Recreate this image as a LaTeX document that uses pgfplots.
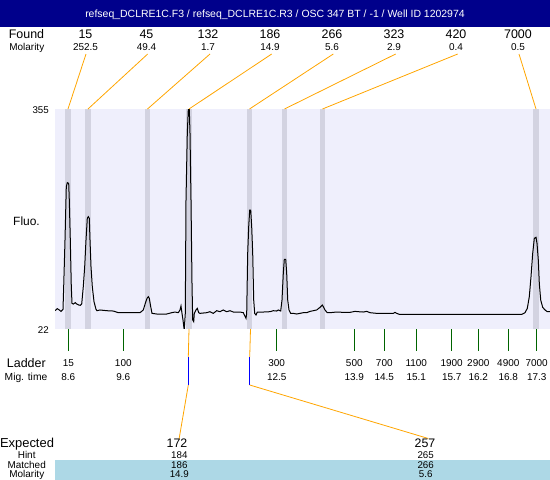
\documentclass[border=0pt]{standalone}
\usepackage{pgfplots}
\pgfplotsset{compat=1.18}
\usepackage{fontspec}
\setmainfont{Liberation Sans}
\definecolor{titlebg}{RGB}{0,0,139}
\definecolor{plotbg}{RGB}{239,239,252}
\definecolor{bandcol}{RGB}{211,211,225}
\definecolor{ladgreen}{RGB}{0,100,0}
\definecolor{leadorange}{RGB}{255,165,0}
\definecolor{rowblue}{RGB}{173,216,230}
\newcommand{\fs}[1]{\fontsize{#1}{#1}\selectfont}
\begin{document}
\begin{tikzpicture}[lab/.style={inner sep=0pt,text depth=0pt}]
\path[use as bounding box] (0,0) rectangle (550bp,-480bp);
\begin{scope}[x=1bp,y=-1bp]
\fill[titlebg] (0,0) rectangle (550,26.7);
\node[lab,white,font=\fs{10.5}] at (275,13.3) {refseq\_DCLRE1C.F3 / refseq\_DCLRE1C.R3 / OSC 347 BT / -1 / Well ID 1202974};
\fill[rowblue] (55,460) rectangle (550,480);
\end{scope}
\begin{axis}[at={(55bp,-329bp)}, anchor=south west, width=495bp, height=220bp, scale only axis,
  xmin=55, xmax=550, ymin=22, ymax=355,
  axis line style={draw=none}, axis background/.style={fill=plotbg},
  ytick=\empty,
  xtick={68.3,123.3,276.7,354.3,384.3,416.3,451.7,478.3,508.3,536.7},
  xticklabels={}, tick pos=left, tick align=outside, major tick length=21.5bp,
  xtick style={draw=ladgreen, line width=1bp}]
\pgfplotsinvokeforeach{68,88,147.5,189,249.5,284.5,322.5,536}{
  \addplot[bandcol, line width=5.5bp, forget plot] coordinates {(#1,22) (#1,355)};
}
\addplot[black, line width=1bp] coordinates {
(55,49.7) (57.3,52.8) (59.3,50.8) (61,48.7) (63,51.8) (63.7,86.1) (65,156.7) (66.3,237.4) (67.3,243.5) (68.7,242.5) (69.3,217.3) (70.3,156.7) (71.3,86.1) (72,60.8) (73.3,59.8) (75.3,61.9) (76.7,59.8) (78.7,58.3) (80.3,57.8) (81.7,59.8) (83.3,86.1) (84.7,116.3) (86,156.7) (87.3,189.5) (88.3,192) (89.3,189.5) (90,156.7) (91,116.3) (92.3,86.1) (94,63.4) (96,51.8) (97,49.7) (100,50.8) (106.7,49.7) (113.3,49.2) (118.3,46.7) (133.3,46.7) (140,46.7) (143.3,50.8) (145.3,60.8) (147,68.4) (148.3,70.9) (149.3,68.4) (150.7,55.8) (152,45.7) (156.7,44.7) (166.7,44.7) (171.7,46.7) (175,47.7) (178.3,46.7) (180,50.8) (181,56.8) (182,45.7) (183,35.6) (184,23) (184.3,23) (185.3,45.7) (186,217.3) (187.3,318.2) (188.3,354) (189.3,354) (190,318.2) (191,217.3) (192,91.1) (192.7,35.6) (193.7,33.1) (194.3,45.7) (196,50.8) (197.3,53.3) (198.7,46.7) (200,45.7) (206.7,46.7) (210,48.2) (213.3,45.7) (216.7,49.7) (220,48.2) (223.3,50.8) (226.7,48.2) (230,49.7) (233.3,47.7) (240,47.7) (243.3,46.7) (246,38.1) (246.7,45.7) (247.7,136.5) (248.7,176.9) (249.7,202.1) (250.7,202.1) (251.7,176.9) (252.7,136.5) (253.7,65.9) (254.7,45.7) (256,43.2) (257.3,47.7) (263.3,47.7) (270,48.2)
(273.3,49.7) (276.7,49.2) (278.3,50.8) (280.7,49.2) (282,65.9) (283.3,106.3) (284.3,127.5) (285.7,127.5) (286.7,106.3) (287.7,65.9) (289,50.8) (290.7,45.7) (293.3,45.7) (296.7,44.7) (300,45.7) (303.3,46.7) (306.7,46.7) (310,48.7) (313.3,49.7) (316.7,50.8) (320,54.8) (322.3,58.3) (323.3,55.8) (325,50.8) (327.3,46.7) (330,46.7) (336.7,47.7) (343.3,47.2) (350,47.2) (355,48.7) (358.3,48.2) (363.3,47.7) (366.7,48.7) (370,46.7) (376.7,45.7) (386.7,45.7) (393.3,45.7) (395,47.2) (396.7,45.7) (399.3,44.2) (436.7,44.2) (470,44.2) (503.3,44.2) (521.7,44.2) (525,46.7) (527.3,53.3) (529.3,70.9) (531,101.2) (532.7,136.5) (534.3,159.2) (536,160.8) (537,151.7) (538.3,126.4) (539.3,91.1) (540.7,65.9) (542.7,54.8) (545,50.8) (547.3,48.2) (550,48.2)
};
\end{axis}
\begin{scope}[x=1bp,y=-1bp]
% top labels
\node[lab,font=\fs{12.5}] at (26.5,34.3) {Found};
\node[lab,font=\fs{10}] at (26.8,46.7) {Molarity};
\foreach \lx/\f/\m in {85.5/15/252.5,146.5/45/49.4,208/132/1.7,270/186/14.9,332/266/5.6,394/323/2.9,456/420/0.4,518/7000/0.5}{
  \node[lab,font=\fs{12.5}] at (\lx,34.3) {\f};
  \node[lab,font=\fs{10}] at (\lx,46.7) {\m};
}
\foreach \sx/\bx in {86/68,147.7/88,210/147.5,271.7/189,333.3/249.5,395.7/284.5,457.7/322.5,519/536}{
  \draw[leadorange,line width=0.8bp] (\sx,54) -- (\bx,109);
}
% y labels
\node[lab,anchor=east,font=\fs{9.8}] at (49,110) {355};
\node[lab,anchor=east,font=\fs{9.8}] at (49,330.5) {22};
\node[lab,font=\fs{12}] at (26.5,220.7) {Fluo.};
% ladder labels
\node[lab,font=\fs{12.5}] at (26.3,363.3) {Ladder};
\node[lab,font=\fs{10.3}] at (26,376.7) {Mig. time};
\foreach \lx/\a/\b in {68.3/15/8.6,123.3/100/9.6,276.7/300/12.5,354.3/500/13.9,384.3/700/14.5,416.3/1100/15.1,451.7/1900/15.7,478.3/2900/16.2,508.3/4900/16.8,536.7/7000/17.3}{
  \node[lab,font=\fs{10}] at (\lx,363.3) {\a};
  \node[lab,font=\fs{10}] at (\lx,376.7) {\b};
}
% matched leaders
\draw[leadorange,line width=0.8bp] (189,329) -- (188.3,357);
\draw[blue,line width=0.8bp] (188.3,357) -- (188.3,385);
\draw[leadorange,line width=0.8bp] (188.3,385) -- (179,439.5);
\draw[leadorange,line width=0.8bp] (250.5,329) -- (249.7,357);
\draw[blue,line width=0.8bp] (249.7,357) -- (249.7,385);
\draw[leadorange,line width=0.8bp] (249.7,385) -- (428.3,438.5);
% bottom table
\node[lab,font=\fs{13}] at (27,443.3) {Expected};
\node[lab,font=\fs{10}] at (26.7,455) {Hint};
\node[lab,font=\fs{10}] at (26.7,465) {Matched};
\node[lab,font=\fs{10}] at (26.8,474.3) {Molarity};
\node[lab,font=\fs{12.4}] at (177,443.3) {172};
\node[lab,font=\fs{9.8}] at (179.3,455) {184};
\node[lab,font=\fs{9.8}] at (179.3,465) {186};
\node[lab,font=\fs{9.8}] at (179.3,474.3) {14.9};
\node[lab,font=\fs{12.4}] at (425,443.3) {257};
\node[lab,font=\fs{9.8}] at (425.7,455) {265};
\node[lab,font=\fs{9.8}] at (425.7,465) {266};
\node[lab,font=\fs{9.8}] at (425.7,474.3) {5.6};
\end{scope}
\end{tikzpicture}
\end{document}
